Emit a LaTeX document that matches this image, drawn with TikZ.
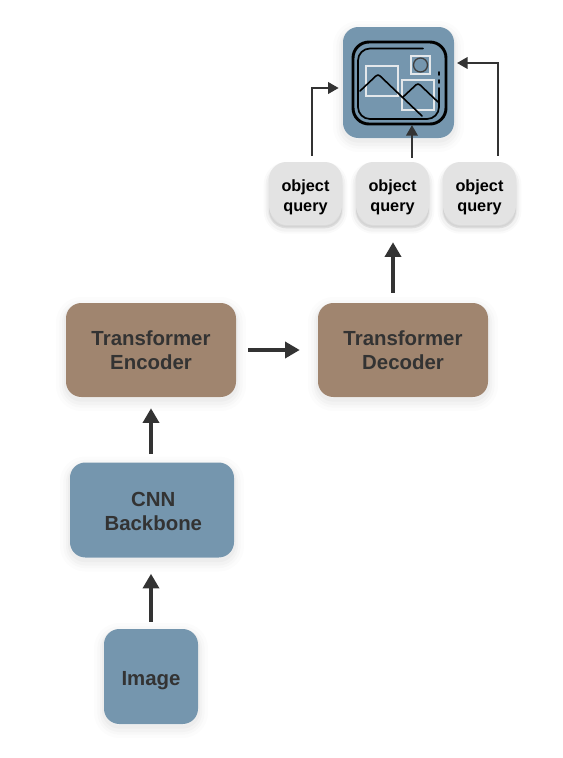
\documentclass[tikz,border=0pt]{standalone}
\usepackage{fontspec}
\setmainfont{Liberation Sans}
\usetikzlibrary{arrows.meta,calc}
\definecolor{tileblue}{HTML}{7596AE}
\definecolor{tilebrown}{HTML}{A0856F}
\definecolor{tilegrey}{HTML}{E3E3E3}
\definecolor{inkdark}{HTML}{333333}
\definecolor{iconwhite}{HTML}{E4E8EB}
\newcommand{\lowertext}[2]{\raisebox{-#1}[\height][\depth]{\begin{tabular}{@{}c@{}}#2\end{tabular}}}
\tikzset{
  softshadow/.style={
    preaction={draw=black,draw opacity=.012,line width=15pt,transform canvas={yshift=-3pt}},
    preaction={draw=black,draw opacity=.015,line width=10pt,transform canvas={yshift=-3pt}},
    preaction={draw=black,draw opacity=.02,line width=6pt,transform canvas={yshift=-3pt}},
    preaction={draw=black,draw opacity=.025,line width=3pt,transform canvas={yshift=-2pt}}},
  queryshadow/.style={
    preaction={fill=black,fill opacity=.02,draw=black,draw opacity=.02,line width=8pt,transform canvas={yshift=-4pt}},
    preaction={fill=black,fill opacity=.03,draw=black,draw opacity=.03,line width=5pt,transform canvas={yshift=-4pt}},
    preaction={fill=black,fill opacity=.04,draw=black,draw opacity=.04,line width=2pt,transform canvas={yshift=-3pt}}},
  tile/.style={softshadow,rounded corners=11.5pt,inner sep=0pt,align=center,text=inkdark,
    font=\fontsize{15.3}{18}\selectfont\bfseries},
  bluetile/.style={tile,fill=tileblue},
  browntile/.style={tile,fill=tilebrown},
  querytile/.style={queryshadow,rounded corners=13pt,inner sep=0pt,fill=tilegrey,align=center,text=black,
    minimum width=54.75pt,minimum height=45.75pt,font=\fontsize{12.2}{15}\selectfont\bfseries},
  bigarrow/.style={draw=inkdark,line width=2.6pt,-{Triangle[length=11pt,width=12pt]}},
  smallarrow/.style={draw=inkdark,line width=1.9pt,-{Triangle[length=8pt,width=8.5pt]}},
  iconline/.style={draw=black,line cap=round},
  iconbox/.style={draw=iconwhite,line width=1.3pt}
}
\begin{document}
\begin{tikzpicture}[x=.75pt,y=-.75pt]
\useasboundingbox (0,0) rectangle (562,758);
\node[bluetile,minimum width=70.5pt,minimum height=71.25pt] (img) at (151,676.5) {\lowertext{3.5pt}{Image}};
\node[bluetile,minimum width=123pt,minimum height=71.25pt] (cnn) at (152,510) {\lowertext{3pt}{\hspace{2pt}CNN\\\hspace{2pt}Backbone}};
\node[browntile,minimum width=127.5pt,minimum height=70.5pt] (enc) at (151,350) {\lowertext{1.7pt}{Transformer\\Encoder}};
\node[browntile,minimum width=127.5pt,minimum height=70.5pt] (dec) at (403,350) {\lowertext{1.7pt}{Transformer\\Decoder}};
\node[querytile] (q1) at (305.5,192.5) {\lowertext{3.7pt}{object\\query}};
\node[querytile] (q2) at (392.5,192.5) {\lowertext{3.7pt}{object\\query}};
\node[querytile] (q3) at (479.5,192.5) {\lowertext{3.7pt}{object\\query}};
\node[softshadow,fill=tileblue,rounded corners=11.5pt,minimum width=83.25pt,minimum height=83.25pt,inner sep=0pt] (out) at (398.5,82.5) {};
% icon
\draw[iconbox] (366,66) rectangle (398,96);
\draw[iconbox] (402,80) rectangle (434,110);
\draw[iconbox] (411,56) rectangle (430,74);
\draw[draw=black!75,line width=1pt] (420.5,65) circle (7);
\draw[iconline,line width=2.2pt,rounded corners=12pt] (353,42) rectangle (446,124);
\draw[iconline,line width=1.3pt,rounded corners=9pt] (423,48.5) -- (358,48.5) -- (358,119) -- (439,119) -- (439,88);
\draw[iconline,line width=1.2pt] (439,72) -- (439,75);
\draw[iconline,line width=1.2pt] (439,80) -- (439,83);
\draw[iconline,line width=1.2pt,rounded corners=2pt] (360,91) -- (378,74) -- (422,116);
\draw[iconline,line width=1.2pt,rounded corners=2pt] (403,97) -- (418,83) -- (438,102);
% connectors
\draw[bigarrow,shorten <=5.25pt] (img.north) -- ([yshift=-12pt]img.north |- cnn.south);
\draw[bigarrow,shorten <=6pt] ([xshift=-.75pt]cnn.north) -- ([yshift=-8.25pt]enc.south);
\draw[bigarrow,shorten <=9pt,shorten >=13.5pt] (enc.east) -- (dec.west);
\coordinate (decarrow) at ($(dec.north)+(-7.5pt,0)$);
\draw[bigarrow,shorten <=7.5pt] (decarrow) -- ([yshift=-14.25pt]decarrow |- q2.south);
\coordinate (q1top) at ($(q1.north)+(4.9pt,0)$);
\coordinate (q2top) at ($(q2.north)+(14.6pt,0)$);
\coordinate (q3top) at ($(q3.north)+(13.9pt,0)$);
\draw[smallarrow,shorten <=4.5pt] (q1top) |- ([xshift=-3pt]out.west |- 0,88);
\draw[smallarrow,shorten <=3pt] (q2top) -- (q2top |- 0,125);
\draw[smallarrow,shorten <=4.5pt] (q3top) |- ([xshift=2pt]out.east |- 0,63);
\end{tikzpicture}
\end{document}
